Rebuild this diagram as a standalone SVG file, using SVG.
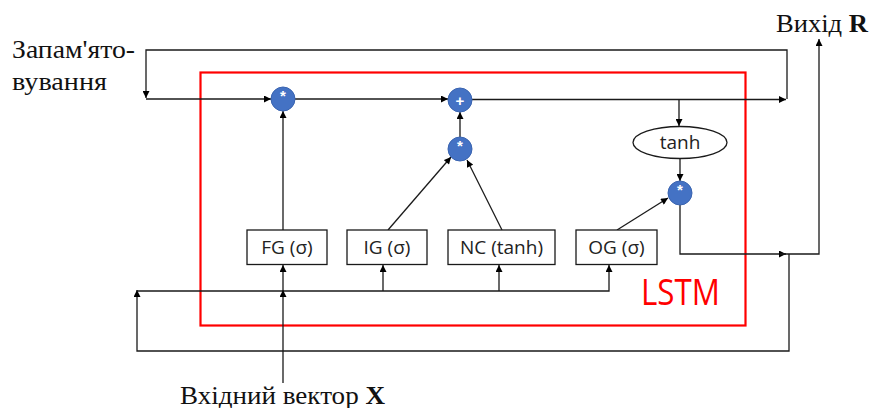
<svg xmlns="http://www.w3.org/2000/svg" width="870" height="408" viewBox="0 0 870 408">
<defs>
<marker id="ah" viewBox="0 0 10 10" refX="10" refY="5" markerWidth="8" markerHeight="7" markerUnits="userSpaceOnUse" orient="auto">
<path d="M0,0 L10,5 L0,10 z" fill="#000"/>
</marker>
</defs>
<style>
.ln{fill:none;stroke:#1a1a1a;stroke-width:1.3}
.op{fill:#4472c4;stroke:#3a64b0;stroke-width:1}
.opt{fill:#fff;font-family:"Liberation Sans",Arial,sans-serif;font-size:15px;font-weight:bold;text-anchor:middle}
.box{fill:#fff;stroke:#1a1a1a;stroke-width:1.3}
.bt{font-family:"Open Sans","Noto Sans",sans-serif;font-size:19px;fill:#222;text-anchor:middle}
.sr{font-family:"Liberation Serif","Times New Roman",serif;font-size:25px;fill:#111}
</style>
<rect x="200.5" y="72.5" width="545" height="253" fill="none" stroke="#ff0000" stroke-width="2.2"/>
<text x="641" y="305" font-family="'Open Sans','Noto Sans',sans-serif" font-size="36" fill="#ff0000" textLength="79" lengthAdjust="spacingAndGlyphs">LSTM</text>
<g id="connectors">
<path class="ln" d="M787,99 V50 H146 V98" marker-end="url(#ah)"/>
<path class="ln" d="M146,99 H271" marker-end="url(#ah)"/>
<path class="ln" d="M295,99 H448" marker-end="url(#ah)"/>
<path class="ln" d="M472,99.5 H786" marker-end="url(#ah)"/>
<path class="ln" d="M679,99.5 V126" marker-end="url(#ah)"/>
<path class="ln" d="M680,158 V181" marker-end="url(#ah)"/>
<path class="ln" d="M460,137 V112" marker-end="url(#ah)"/>
<path class="ln" d="M283,230 V111" marker-end="url(#ah)"/>
<path class="ln" d="M388,230 L451,157" marker-end="url(#ah)"/>
<path class="ln" d="M502,230 L467,160" marker-end="url(#ah)"/>
<path class="ln" d="M617,230 L668,198" marker-end="url(#ah)"/>
<path class="ln" d="M680,205 V254 H786" marker-end="url(#ah)"/>
<path class="ln" d="M780,254 H819 V39" marker-end="url(#ah)"/>
<path class="ln" d="M789,254 V351 H137 V290" marker-end="url(#ah)"/>
<path class="ln" d="M137,291 H609 V265" marker-end="url(#ah)"/>
<path class="ln" d="M383,291 V265" marker-end="url(#ah)"/>
<path class="ln" d="M499,291 V265" marker-end="url(#ah)"/>
<path class="ln" d="M283,383 V290" marker-end="url(#ah)"/>
<path class="ln" d="M283,291 V265" marker-end="url(#ah)"/>
</g>
<g id="mul1"><circle class="op" cx="283" cy="99" r="12"/><text class="opt" x="283" y="101">*</text></g>
<g id="add"><circle class="op" cx="460" cy="100" r="12"/><text class="opt" x="460" y="105.5" font-size="20">+</text></g>
<g id="mul2"><circle class="op" cx="460" cy="149" r="12"/><text class="opt" x="460" y="151">*</text></g>
<g id="mul3"><circle class="op" cx="680" cy="193" r="12"/><text class="opt" x="680" y="195">*</text></g>
<g id="tanh"><ellipse cx="680" cy="142.5" rx="47" ry="16" fill="#fff" stroke="#1a1a1a" stroke-width="1.3"/><text class="bt" x="680" y="149">tanh</text></g>
<g id="fg"><rect class="box" x="247" y="230" width="80" height="34.5"/><text class="bt" x="287" y="254">FG (σ)</text></g>
<g id="ig"><rect class="box" x="347" y="230" width="80" height="34.5"/><text class="bt" x="387" y="254">IG (σ)</text></g>
<g id="nc"><rect class="box" x="448" y="230" width="107" height="34.5"/><text class="bt" x="501.5" y="254">NC (tanh)</text></g>
<g id="og"><rect class="box" x="576" y="230" width="81" height="34.5"/><text class="bt" x="616.5" y="254">OG (σ)</text></g>
<g id="memory"><text class="sr" x="12" y="58" textLength="123" lengthAdjust="spacingAndGlyphs">Запам'ято-</text><text class="sr" x="12" y="90" textLength="95" lengthAdjust="spacingAndGlyphs">вування</text></g>
<g id="output"><text class="sr" x="776" y="32" textLength="92" lengthAdjust="spacingAndGlyphs">Вихід <tspan font-weight="bold">R</tspan></text></g>
<g id="input"><text class="sr" x="180" y="404" textLength="205" lengthAdjust="spacingAndGlyphs">Вхідний вектор <tspan font-weight="bold">X</tspan></text></g>
</svg>
